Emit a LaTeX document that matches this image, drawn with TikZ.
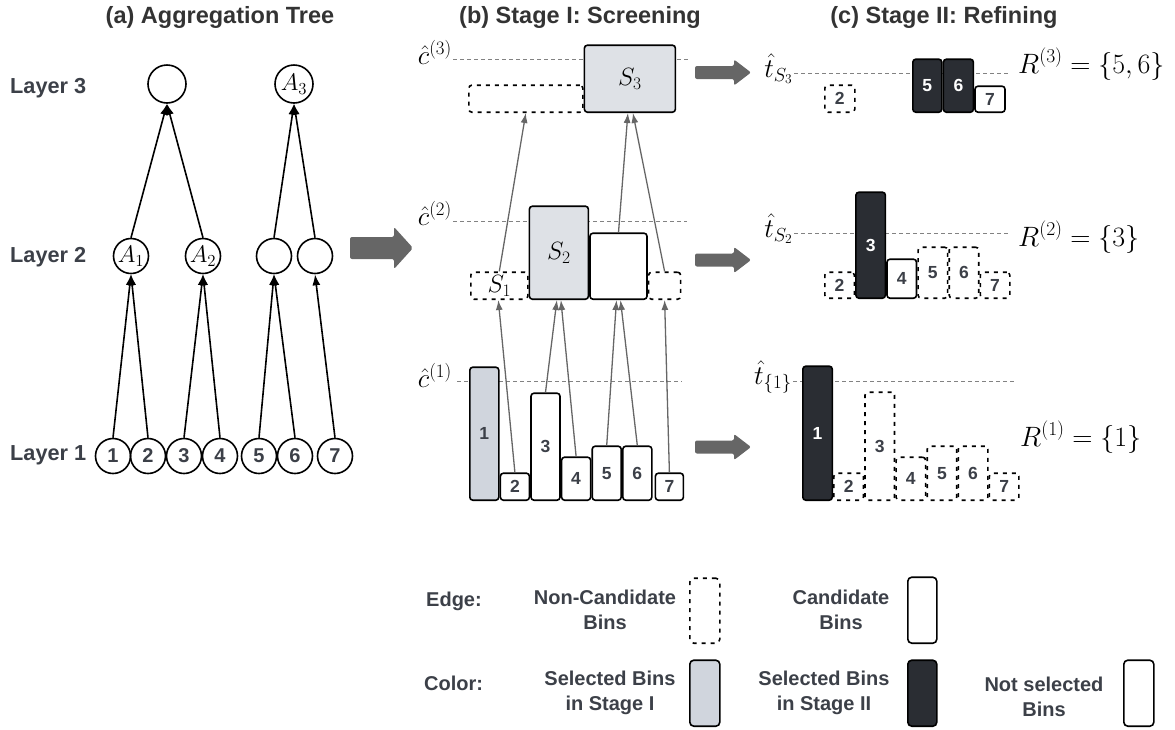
\RequirePackage{fix-cm}
\documentclass[tikz,border=0pt]{standalone}
\usepackage{fontspec}
\setmainfont{Liberation Sans}
\usepackage{tikz}
\usetikzlibrary{positioning,arrows.meta}
\definecolor{labtxt}{RGB}{60,64,72}
\definecolor{ttltxt}{RGB}{51,51,51}
\definecolor{flow}{RGB}{102,102,102}
\definecolor{selone}{RGB}{208,213,221}
\definecolor{seltwo}{RGB}{42,45,51}
\definecolor{sbox}{RGB}{222,225,230}
\definecolor{thrgray}{RGB}{130,130,130}

\begin{document}
\begin{tikzpicture}[x=1pt,y=-1pt,
title/.style={font=\fontsize{23.5}{28}\selectfont\bfseries,text=ttltxt},
layer/.style={font=\fontsize{21.7}{26}\selectfont\bfseries,text=labtxt,anchor=base west,inner sep=0pt},
leaf/.style={
circle,
draw,
line width=1.6pt,
minimum size=35pt,
inner sep=0pt,
font=\fontsize{20}{24}\selectfont\bfseries,
text=labtxt
},
agg/.style={leaf,font=\fontsize{24}{28}\selectfont,text=black},
bin/.style={
rectangle,
rounded corners=3pt,
draw,
line width=1.6pt,
inner sep=0pt,
minimum width=29pt,
anchor=south west,
font=\fontsize{17.5}{20}\selectfont\bfseries,
text=labtxt
},
nocand/.style={bin,dash pattern=on 4pt off 5pt},
setlab/.style={font=\fontsize{25}{30}\selectfont,text=black},
thrlab/.style={font=\fontsize{27}{32}\selectfont,anchor=base east,inner sep=0pt},
reslab/.style={font=\fontsize{28}{32}\selectfont,anchor=base west,inner sep=0pt},
thr/.style={draw=thrgray,line width=1pt,dash pattern=on 4pt off 3pt},
tree/.style={-{Latex[length=11pt,width=8pt]},line width=1.6pt},
up/.style={-{Latex[length=10pt,width=7pt]},line width=1.3pt,draw=flow},
legtxt/.style={font=\fontsize{20}{24.5}\selectfont\bfseries,text=labtxt,align=center},
]
\useasboundingbox (0,0) rectangle (1175,729);

% titles
\node (tta) [title] at (220,17) {(a) Aggregation Tree};
\node (ttb) [title] at (580,17) {(b) Stage I: Screening};
\node (ttc) [title] at (944,17) {(c) Stage II: Refining};

% (a) aggregation tree
\node (ly3) [layer] at (10,93) {Layer 3};
\node (ly2) [layer] at (10,262) {Layer 2};
\node (ly1) [layer] at (10,460) {Layer 1};

\node (r1) [agg,minimum size=38pt] at (167,84) {};
\node (r2) [agg,minimum size=38pt] at (294,84) {$A_3$};
\node (m1) [agg] at (131,256) {$A_1$};
\node (m2) [agg] at (203,256) {$A_2$};
\node (m3) [agg] at (274,256) {};
\node (m4) [agg] at (315,256) {};
\node (l1) [leaf] at (113,456) {1};
\node (l2) [leaf] at (148,456) {2};
\node (l3) [leaf] at (184,456) {3};
\node (l4) [leaf] at (220,456) {4};
\node (l5) [leaf] at (259,456) {5};
\node (l6) [leaf] at (295,456) {6};
\node (l7) [leaf] at (335,456) {7};

\draw[tree] (l1.north) -- (m1.south);
\draw[tree] (l2.north) -- (m1.south);
\draw[tree] (l3.north) -- (m2.south);
\draw[tree] (l4.north) -- (m2.south);
\draw[tree] (l5.north) -- (m3.south);
\draw[tree] (l6.north) -- (m3.south);
\draw[tree] (l7.north) -- (m4.south);
\draw[tree] (m1.north) -- (r1.south);
\draw[tree] (m2.north) -- (r1.south);
\draw[tree] (m3.north) -- (r2.south);
\draw[tree] (m4.north) -- (r2.south);

% block arrows
\fill[flow,rounded corners=2pt] (350,237) -- (394,237) -- (394,227) -- (413,248) -- (394,269) -- (394,259) -- (350,259) -- cycle;
\foreach \yy in {72.5,260,447}
  \fill[flow,rounded corners=2pt] (695,\yy-6.5) -- (734,\yy-6.5) -- (734,\yy-13) -- (751,\yy) -- (734,\yy+13) -- (734,\yy+6.5) -- (695,\yy+6.5) -- cycle;

% (b) stage I
\node (ch3) [thrlab] at (452,64) {$\hat{c}^{(3)}$};
\node (ch2) [thrlab] at (452,225) {$\hat{c}^{(2)}$};
\node (ch1) [thrlab] at (452,387) {$\hat{c}^{(1)}$};
\draw[thr] (453,59) -- (690,59);
\draw[thr] (453,221) -- (687,221);
\draw[thr] (457,381) -- (682,381);

\node (d3) [nocand,minimum width=114pt,minimum height=27pt] at (468,113) {};
\node (s3) [bin,fill=sbox,minimum width=91pt,minimum height=67pt,setlab] at (d3.south east) {$S_3$};

\node (s1) [nocand,minimum width=57pt,minimum height=27pt,setlab] at (470,300) {$S_1$};
\node (s2) [bin,fill=sbox,minimum width=59pt,minimum height=93pt,setlab] at (s1.south east) {$S_2$};
\node (e2) [bin,fill=white,minimum width=57pt,minimum height=66pt] at (s2.south east) {};
\node (d2) [nocand,minimum width=32pt,minimum height=27pt] at (e2.south east) {};

\node (b1) [bin,fill=selone,minimum height=133pt] at (469,501) {1};
\node (b2) [bin,minimum height=27pt] at (b1.south east) {2};
\node (b3) [bin,minimum height=107pt] at (b2.south east) {3};
\node (b4) [bin,minimum height=43pt] at (b3.south east) {4};
\node (b5) [bin,minimum height=54pt] at (b4.south east) {5};
\node (b6) [bin,minimum height=54pt] at (b5.south east) {6};
\node (b7) [bin,minimum width=28pt,minimum height=27pt] at ([xshift=2pt]b6.south east) {7};

\draw[up] (b2.north) -- ([xshift=-1pt]s1.south);
\draw[up] (b3.north) -- ([xshift=-2pt]s2.south);
\draw[up] (b4.north) -- ([xshift=2pt]s2.south);
\draw[up] (b5.north) -- ([xshift=-2pt]e2.south);
\draw[up] (b6.north) -- ([xshift=2pt]e2.south);
\draw[up] (b7.north) -- (d2.south);
\draw[up] (s1.north) -- (d3.south);
\draw[up] (e2.north) -- ([xshift=-2pt]s3.south);
\draw[up] (d2.north) -- ([xshift=3pt]s3.south);

% (c) stage II
\node (ts3) [thrlab] at (793,77) {$\hat{t}_{S_3}$};
\node (ts2) [thrlab] at (793,237) {$\hat{t}_{S_2}$};
\node (ts1) [thrlab] at (792,384) {$\hat{t}_{\{1\}}$};
\draw[thr] (794,73) -- (1010,73);
\draw[thr] (794,233) -- (1010,233);
\draw[thr] (793,381) -- (1015,381);

\node (q2) [nocand,minimum width=30pt,minimum height=27pt] at (824,113) {2};
\node (q5) [bin,fill=seltwo,text=white,minimum height=53pt] at (912,113) {5};
\node (q6) [bin,fill=seltwo,text=white,minimum width=30pt,minimum height=53pt] at (q5.south east) {6};
\node (q7) [bin,fill=white,minimum width=30pt,minimum height=26pt] at (q6.south east) {7};

\node (p2) [nocand,minimum width=29.5pt,minimum height=26pt] at (824,299) {2};
\node (p3) [bin,fill=seltwo,text=white,minimum width=29.5pt,minimum height=106pt] at (p2.south east) {3};
\node (p4) [bin,fill=white,minimum width=29.5pt,minimum height=39pt] at (p3.south east) {4};
\node (p5) [nocand,minimum width=29.5pt,minimum height=51pt] at (p4.south east) {5};
\node (p6) [nocand,minimum width=29.5pt,minimum height=51pt] at (p5.south east) {6};
\node (p7) [nocand,minimum width=29.5pt,minimum height=26pt] at (p6.south east) {7};

\node (o1) [bin,fill=seltwo,text=white,minimum width=29.5pt,minimum height=134pt] at (802,501) {1};
\node (o2) [nocand,minimum width=29.5pt,minimum height=27pt] at (o1.south east) {2};
\node (o3) [nocand,minimum width=29.5pt,minimum height=108pt] at (o2.south east) {3};
\node (o4) [nocand,minimum width=29.5pt,minimum height=43pt] at (o3.south east) {4};
\node (o5) [nocand,minimum width=29.5pt,minimum height=54pt] at (o4.south east) {5};
\node (o6) [nocand,minimum width=29.5pt,minimum height=54pt] at (o5.south east) {6};
\node (o7) [nocand,minimum width=29.5pt,minimum height=27pt] at (o6.south east) {7};

\node (rs3) [reslab] at (1018,73) {$R^{(3)}=\{5,6\}$};
\node (rs2) [reslab] at (1018,246) {$R^{(2)}=\{3\}$};
\node (rs1) [reslab] at (1020,446) {$R^{(1)}=\{1\}$};

% legend
\node (edg) [layer,font=\fontsize{20}{24}\selectfont\bfseries] at (426,606) {Edge:};
\node (col) [layer,font=\fontsize{20}{24}\selectfont\bfseries] at (424,690) {Color:};
\node (tnc) [legtxt] at (605,610) {Non-Candidate\\Bins};
\node (tca) [legtxt] at (841,610) {Candidate\\Bins};
\node (tso) [legtxt] at (610,693) {Selected Bins\\in Stage I};
\node (tst) [legtxt] at (824,693) {Selected Bins\\in Stage II};
\node (tns) [legtxt] at (1044,697) {Not selected\\Bins};
\node (bnc) [nocand,minimum width=30pt,minimum height=65pt,rounded corners=4pt] at (689,644) {};
\node (bca) [bin,minimum width=29pt,minimum height=66pt,rounded corners=4pt] at (907,644) {};
\node (bso) [bin,fill=selone,minimum width=30pt,minimum height=66pt,rounded corners=4pt] at (689,727) {};
\node (bst) [bin,fill=seltwo,minimum width=29pt,minimum height=66pt,rounded corners=4pt] at (907,727) {};
\node (bns) [bin,minimum width=30pt,minimum height=66pt,rounded corners=4pt] at (1123,727) {};
\end{tikzpicture}
\end{document}
